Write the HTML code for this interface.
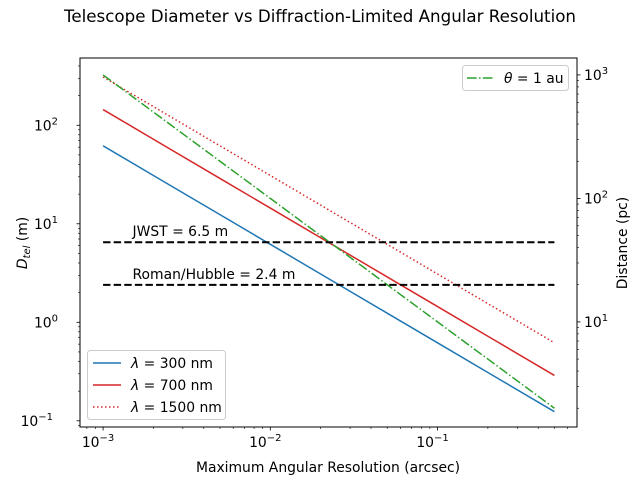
<!DOCTYPE html>
<html><head><meta charset="utf-8"><style>
body{margin:0;background:#fff}
svg{display:block;font-family:"DejaVu Sans","Liberation Sans",sans-serif}
</style></head><body>
<svg id="chart" width="640" height="480" viewBox="0 0 640 480" xmlns="http://www.w3.org/2000/svg">
<text x="320" y="22" font-size="16.7" text-anchor="middle">Telescope Diameter vs Diffraction-Limited Angular Resolution</text>
<g id="marks"></g>
<g id="axes"></g>
</svg>
<script>
const thetaValues = [0.001, 0.002, 0.005, 0.01, 0.02, 0.05, 0.1, 0.2, 0.5];
const wavelengthsNm = [300, 700, 1500];
const seriesColors = ['#1f77b4', '#d62728', '#d62728'];
const seriesDash = ['', '', '1.5,2.5'];
const telescopeDiameters = [6.5, 2.4];
const telescopeLabels = ['JWST = 6.5 m', 'Roman/Hubble = 2.4 m'];
const xTickLabels = ['-3', '-2', '-1'];
const yTickExps = [-1, 0, 1, 2];
const y2TickExps = [1, 2, 3];

const L = 80, R = 577, T = 58, B = 427;
const xMin = -3.138, xMax = -0.166;
const yMin = -1.063, yMax = 2.683;
const y2Min = 0.149, y2Max = 3.137;
const NS = 'http://www.w3.org/2000/svg';
const xs = v => L + (Math.log10(v) - xMin) / (xMax - xMin) * (R - L);
const ys = v => B - (Math.log10(v) - yMin) / (yMax - yMin) * (B - T);
const y2s = v => B - (Math.log10(v) - y2Min) / (y2Max - y2Min) * (B - T);
const ARCSEC = Math.PI / 180 / 3600;
const FS = 13.9;

function el(tag, attrs, parent, text) {
  const e = document.createElementNS(NS, tag);
  for (const k in attrs) e.setAttribute(k, attrs[k]);
  if (text !== undefined) e.textContent = text;
  parent.appendChild(e);
  return e;
}
const marks = document.getElementById('marks');
const axes = document.getElementById('axes');

wavelengthsNm.forEach((w, i) => {
  const pts = thetaValues.map(t => xs(t).toFixed(2) + ',' + ys(w * 1e-9 / (t * ARCSEC)).toFixed(2)).join(' ');
  const p = el('polyline', {points: pts, fill: 'none', stroke: seriesColors[i], 'stroke-width': 1.5, 'stroke-dasharray': seriesDash[i]}, marks);
  
  
});
{
  const pts = thetaValues.map(t => xs(t).toFixed(2) + ',' + y2s(1 / t).toFixed(2)).join(' ');
  const p = el('polyline', {points: pts, fill: 'none', stroke: '#2ca02c', 'stroke-width': 1.5, 'stroke-dasharray': '9.6,2.4,1.5,2.4'}, marks);
  
  
}
telescopeDiameters.forEach((d, i) => {
  const x1 = xs(thetaValues[0]), x2 = xs(thetaValues[thetaValues.length - 1]);
  const l = el('line', {x1: x1, x2: x2, y1: ys(d), y2: ys(d), stroke: '#000', 'stroke-width': 2, 'stroke-dasharray': '7.4,3.2'}, marks);
  
  
  const t = el('text', {x: xs(0.0015), y: ys(d) - 6, 'font-size': FS}, marks, telescopeLabels[i]);
  
  
});

const fr = el('rect', {x: L, y: T, width: R - L, height: B - T, fill: 'none', stroke: '#000', 'stroke-width': 1}, axes);



for (let e = -4; e <= 0; e++) {
  for (let m = 1; m < 10; m++) {
    const x = xs(m * Math.pow(10, e));
    if (x < L || x > R) continue;
    el('line', {x1: x, x2: x, y1: B, y2: B + (m === 1 ? 3.5 : 2), stroke: '#000', 'stroke-width': m === 1 ? 0.8 : 0.6}, axes);
  }
}
xTickLabels.forEach(s => {
  const x = xs(Math.pow(10, +s));
  const t = el('text', {x: x - 5, y: B + 20, 'font-size': FS, 'text-anchor': 'middle'}, axes, '10');
  el('tspan', {dy: -6, 'font-size': 10}, t, '−' + s.replace('-', ''));
  
  
});
for (let e = -2; e <= 2; e++) {
  for (let m = 1; m < 10; m++) {
    const y = ys(m * Math.pow(10, e));
    if (y < T || y > B) continue;
    el('line', {x1: L, x2: L - (m === 1 ? 3.5 : 2), y1: y, y2: y, stroke: '#000', 'stroke-width': m === 1 ? 0.8 : 0.6}, axes);
  }
}
yTickExps.forEach(e => {
  const y = ys(Math.pow(10, e));
  const t = el('text', {x: e < 0 ? 53 : 58, y: y + 5, 'font-size': FS, 'text-anchor': 'end'}, axes, '10');
  el('tspan', {dy: -6, 'font-size': 10}, t, e < 0 ? '−' + (-e) : String(e));
  
  
});
for (let e = 0; e <= 3; e++) {
  for (let m = 1; m < 10; m++) {
    const y = y2s(m * Math.pow(10, e));
    if (y < T || y > B) continue;
    el('line', {x1: R, x2: R + (m === 1 ? 3.5 : 2), y1: y, y2: y, stroke: '#000', 'stroke-width': m === 1 ? 0.8 : 0.6}, axes);
  }
}
y2TickExps.forEach(e => {
  const y = y2s(Math.pow(10, e));
  const t = el('text', {x: R + 7, y: y + 5, 'font-size': FS}, axes, '10');
  el('tspan', {dy: -6, 'font-size': 10}, t, String(e));
  
  
});
</script>
<script>
const svg = document.getElementById('chart');
const extra = `
<text x="328" y="472" font-size="13.9" text-anchor="middle">Maximum Angular Resolution (arcsec)</text>
<text transform="translate(27,243) rotate(-90)" font-size="13.9" text-anchor="middle"><tspan font-style="italic">D</tspan><tspan font-size="10" dy="3" font-style="italic">tel</tspan><tspan dy="-3"> (m)</tspan></text>
<text transform="translate(627,243) rotate(-90)" font-size="13.9" text-anchor="middle">Distance (pc)</text>
<g>
<rect x="87.5" y="350.5" width="138" height="69" rx="3" fill="#fff" fill-opacity="0.8" stroke="#ccc"/>
<line x1="93" x2="121" y1="363" y2="363" stroke="#1f77b4" stroke-width="1.5"/>
<text x="131" y="368" font-size="13.9"><tspan font-style="italic">λ</tspan> = 300 nm</text>
<line x1="93" x2="121" y1="385" y2="385" stroke="#d62728" stroke-width="1.5"/>
<text x="131" y="390" font-size="13.9"><tspan font-style="italic">λ</tspan> = 700 nm</text>
<line x1="93" x2="121" y1="407" y2="407" stroke="#d62728" stroke-width="1.5" stroke-dasharray="1.5,2.5"/>
<text x="131" y="412" font-size="13.9"><tspan font-style="italic">λ</tspan> = 1500 nm</text>
</g>
<g>
<rect x="462.5" y="65.5" width="106" height="25" rx="3" fill="#fff" fill-opacity="0.8" stroke="#ccc"/>
<line x1="467" x2="495" y1="78" y2="78" stroke="#2ca02c" stroke-width="1.5" stroke-dasharray="9.6,2.4,1.5,2.4"/>
<text x="504" y="83" font-size="13.9"><tspan font-style="italic">θ</tspan> = 1 au</text>
</g>`;
svg.insertAdjacentHTML('beforeend', extra);
</script>
</body></html>
